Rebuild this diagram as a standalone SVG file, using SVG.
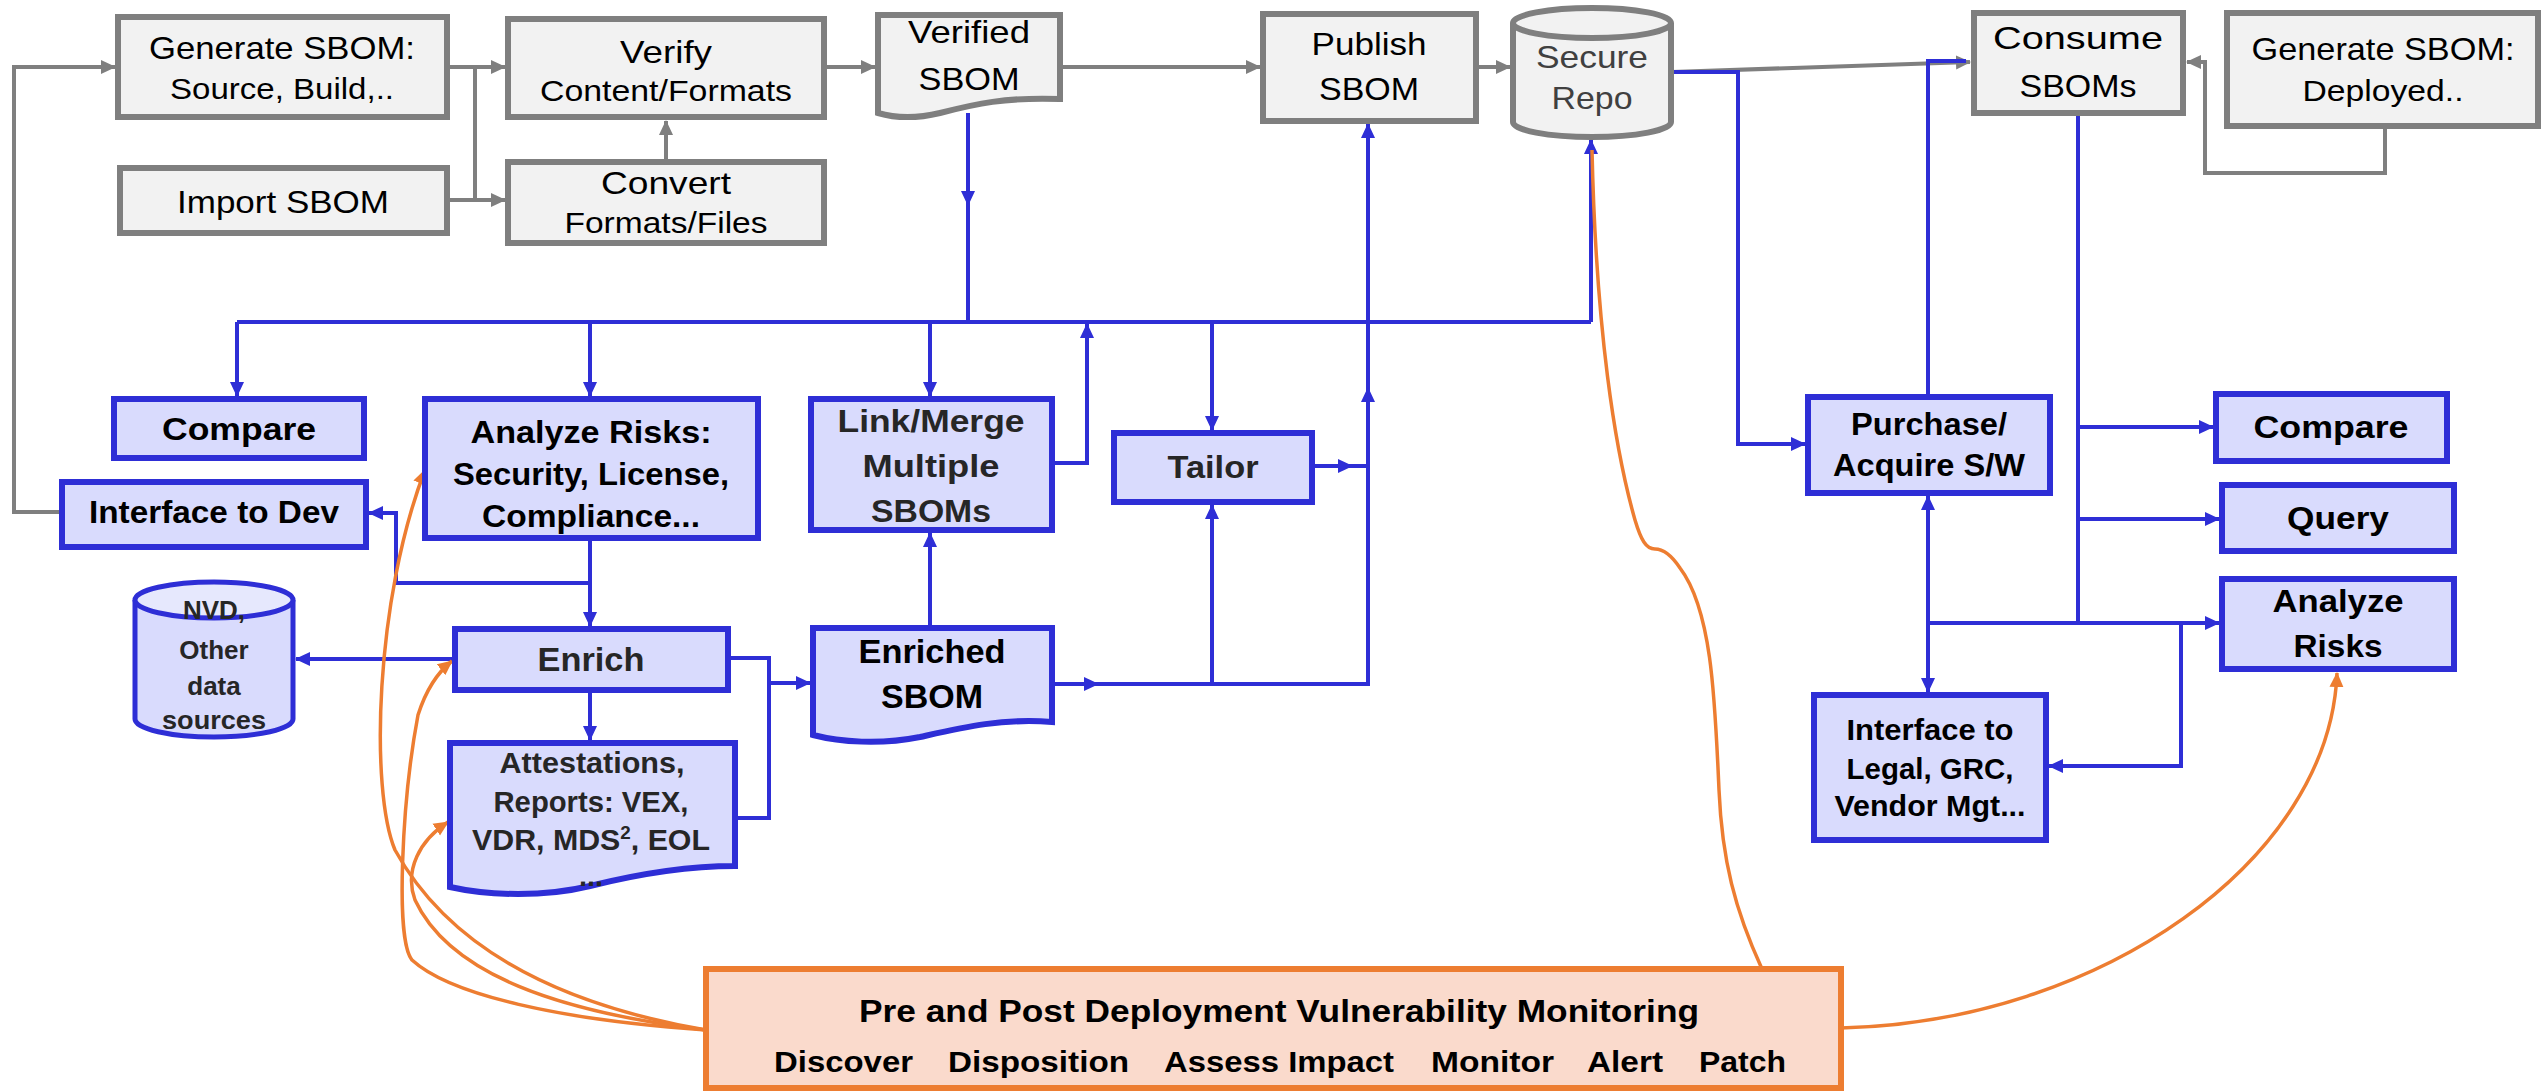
<svg xmlns="http://www.w3.org/2000/svg" width="2542" height="1091" viewBox="0 0 2542 1091">
  <style>
    .gbox{fill:#f2f2f2;stroke:#7f7f7f;stroke-width:6}
    .bbox{fill:#d9dbfd;stroke:#2e2ed6;stroke-width:6}
    .obox{fill:#fadacc;stroke:#ed7d31;stroke-width:6}
    .t{font-family:"Liberation Sans",Arial,sans-serif;text-anchor:middle;fill:#000}
    .r{font-size:32px}
    .r2{font-size:29px}
    .b{font-size:32px;font-weight:bold}
    .d{fill:#262626}
    .gl{fill:none;stroke:#7f7f7f;stroke-width:4}
    .bl{fill:none;stroke:#2e2ed6;stroke-width:4}
    .ol{fill:none;stroke:#ed7d31;stroke-width:3.5}
  </style>
  <defs>
    <marker id="ga" markerUnits="userSpaceOnUse" markerWidth="16" markerHeight="16" refX="14" refY="8" orient="auto-start-reverse">
      <path d="M0,1 L15,8 L0,15 z" fill="#7f7f7f"/>
    </marker>
    <marker id="ba" markerUnits="userSpaceOnUse" markerWidth="16" markerHeight="16" refX="14" refY="8" orient="auto-start-reverse">
      <path d="M0,1 L15,8 L0,15 z" fill="#2e2ed6"/>
    </marker>
    <marker id="oa" markerUnits="userSpaceOnUse" markerWidth="16" markerHeight="16" refX="14" refY="8" orient="auto-start-reverse">
      <path d="M0,1 L15,8 L0,15 z" fill="#ed7d31"/>
    </marker>
  </defs>

  <!-- connectors -->
  <g id="connectors">
    <!-- grey producer flow -->
    <path class="gl" d="M447,67 H505" marker-end="url(#ga)"/>
    <path class="gl" d="M447,200 H505" marker-end="url(#ga)"/>
    <path class="gl" d="M475,67 V200"/>
    <path class="gl" d="M666,162 V121" marker-end="url(#ga)"/>
    <path class="gl" d="M824,67 H875" marker-end="url(#ga)"/>
    <path class="gl" d="M1060,67 H1260" marker-end="url(#ga)"/>
    <path class="gl" d="M1476,67 H1510" marker-end="url(#ga)"/>
    <path class="gl" d="M1672,72 L1970,62" marker-end="url(#ga)"/>
    <path class="gl" d="M2385,127 V173 H2205 V62 H2187" marker-end="url(#ga)"/>
    <path class="gl" d="M62,512 H14 V67 H115" marker-end="url(#ga)"/>

    <!-- blue distribution bus -->
    <path class="bl" d="M968,113 V205" marker-end="url(#ba)"/>
    <path class="bl" d="M968,200 V322"/>
    <path class="bl" d="M237,322 H1591"/>
    <path class="bl" d="M237,322 V396" marker-end="url(#ba)"/>
    <path class="bl" d="M590,322 V396" marker-end="url(#ba)"/>
    <path class="bl" d="M930,322 V396" marker-end="url(#ba)"/>
    <path class="bl" d="M1212,322 V430" marker-end="url(#ba)"/>
    <path class="bl" d="M1591,322 V140" marker-end="url(#ba)"/>
    <path class="bl" d="M1052,463 H1087 V324" marker-end="url(#ba)"/>
    <path class="bl" d="M1312,466 H1352" marker-end="url(#ba)"/>
    <path class="bl" d="M1350,466 H1368"/>
    <path class="bl" d="M1052,684 H1098" marker-end="url(#ba)"/>
    <path class="bl" d="M1096,684 H1368 V124" marker-end="url(#ba)"/>
    <path class="bl" d="M1368,420 V388" marker-end="url(#ba)"/>
    <path class="bl" d="M1212,684 V505" marker-end="url(#ba)"/>
    <path class="bl" d="M930,628 V533" marker-end="url(#ba)"/>
    <path class="bl" d="M590,538 V583 H396 V513 H369" marker-end="url(#ba)"/>
    <path class="bl" d="M590,583 V626" marker-end="url(#ba)"/>
    <path class="bl" d="M455,659 H296" marker-end="url(#ba)"/>
    <path class="bl" d="M590,690 V740" marker-end="url(#ba)"/>
    <path class="bl" d="M728,658 H769 V818 H735"/>
    <path class="bl" d="M769,683 H810" marker-end="url(#ba)"/>

    <!-- blue consumer side -->
    <path class="bl" d="M1672,72 H1738 V444 H1805" marker-end="url(#ba)"/>
    <path class="bl" d="M1928,397 V61 H1966"/>
    <path class="bl" d="M2078,113 V623"/>
    <path class="bl" d="M2078,427 H2213" marker-end="url(#ba)"/>
    <path class="bl" d="M2078,519 H2219" marker-end="url(#ba)"/>
    <path class="bl" d="M1928,623 H2219" marker-end="url(#ba)"/>
    <path class="bl" d="M1928,496 V692" marker-start="url(#ba)" marker-end="url(#ba)"/>
    <path class="bl" d="M2181,623 V766 H2049" marker-end="url(#ba)"/>

    <!-- orange monitoring links -->
    <path class="ol" d="M1762,969 C1735,910 1722,860 1719,790 C1715,700 1712,610 1680,568 C1670,553 1662,549 1655,549 C1646,549 1641,540 1635,520 C1615,450 1596,330 1592,150"/>
    <path class="ol" d="M1841,1028 C2100,1022 2330,860 2337,673" marker-end="url(#oa)"/>
    <path class="ol" d="M706,1030 C560,1005 450,950 395,850 C370,790 375,600 425,470" marker-end="url(#oa)"/>
    <path class="ol" d="M706,1030 C560,1020 450,995 412,960 C395,940 402,800 418,715 C426,690 438,672 452,661" marker-end="url(#oa)"/>
    <path class="ol" d="M706,1030 C560,1012 450,975 415,900 C404,870 420,840 448,822" marker-end="url(#oa)"/>
  </g>

  <!-- producer side (grey) -->
  <g id="gen-source">
    <rect class="gbox" x="118" y="17" width="329" height="100"/>
    <text class="t r" x="282" y="59" textLength="266" lengthAdjust="spacingAndGlyphs">Generate SBOM:</text>
    <text class="t r2" x="282" y="99" textLength="224" lengthAdjust="spacingAndGlyphs">Source, Build,..</text>
  </g>
  <g id="import">
    <rect class="gbox" x="120" y="168" width="327" height="65"/>
    <text class="t r" x="283" y="213" textLength="212" lengthAdjust="spacingAndGlyphs">Import SBOM</text>
  </g>
  <g id="verify">
    <rect class="gbox" x="508" y="19" width="316" height="98"/>
    <text class="t r" x="666" y="63" textLength="92" lengthAdjust="spacingAndGlyphs">Verify</text>
    <text class="t r2" x="666" y="101" textLength="252" lengthAdjust="spacingAndGlyphs">Content/Formats</text>
  </g>
  <g id="convert">
    <rect class="gbox" x="508" y="162" width="316" height="81"/>
    <text class="t r" x="666" y="194" textLength="130" lengthAdjust="spacingAndGlyphs">Convert</text>
    <text class="t r2" x="666" y="233" textLength="203" lengthAdjust="spacingAndGlyphs">Formats/Files</text>
  </g>
  <g id="verified-sbom">
    <path class="gbox" d="M878,15 H1060 V99 C1005,97 975,104 940,113 C915,119 895,118 878,113 Z"/>
    <text class="t r" x="969" y="43" textLength="122" lengthAdjust="spacingAndGlyphs">Verified</text>
    <text class="t r" x="969" y="90" textLength="101" lengthAdjust="spacingAndGlyphs">SBOM</text>
  </g>
  <g id="publish">
    <rect class="gbox" x="1263" y="14" width="213" height="107"/>
    <text class="t r" x="1369" y="55" textLength="115" lengthAdjust="spacingAndGlyphs">Publish</text>
    <text class="t r" x="1369" y="100" textLength="100" lengthAdjust="spacingAndGlyphs">SBOM</text>
  </g>
  <g id="secure-repo">
    <path class="gbox" d="M1513,23 V122 A79,15 0 0 0 1671,122 V23"/>
    <ellipse class="gbox" cx="1592" cy="23" rx="79" ry="15"/>
    <text class="t r" x="1592" y="68" style="fill:#404040" textLength="112" lengthAdjust="spacingAndGlyphs">Secure</text>
    <text class="t r" x="1592" y="109" style="fill:#404040" textLength="81" lengthAdjust="spacingAndGlyphs">Repo</text>
  </g>
  <g id="consume">
    <rect class="gbox" x="1974" y="13" width="209" height="100"/>
    <text class="t r" x="2078" y="49" textLength="170" lengthAdjust="spacingAndGlyphs">Consume</text>
    <text class="t r" x="2078" y="97" textLength="117" lengthAdjust="spacingAndGlyphs">SBOMs</text>
  </g>
  <g id="gen-deployed">
    <rect class="gbox" x="2227" y="13" width="311" height="113"/>
    <text class="t r" x="2383" y="60" textLength="263" lengthAdjust="spacingAndGlyphs">Generate SBOM:</text>
    <text class="t r2" x="2383" y="101" textLength="161" lengthAdjust="spacingAndGlyphs">Deployed..</text>
  </g>

  <!-- producer analysis (blue) -->
  <g id="compare-left">
    <rect class="bbox" x="114" y="399" width="250" height="59"/>
    <text class="t b" x="239" y="440" textLength="154" lengthAdjust="spacingAndGlyphs">Compare</text>
  </g>
  <g id="analyze-left">
    <rect class="bbox" x="425" y="399" width="333" height="139"/>
    <text class="t b" x="591" y="443" textLength="241" lengthAdjust="spacingAndGlyphs">Analyze Risks:</text>
    <text class="t b" x="591" y="485" textLength="276" lengthAdjust="spacingAndGlyphs">Security, License,</text>
    <text class="t b" x="591" y="527" textLength="218" lengthAdjust="spacingAndGlyphs">Compliance...</text>
  </g>
  <g id="interface-dev">
    <rect class="bbox" x="62" y="482" width="304" height="65"/>
    <text class="t b" x="214" y="523" textLength="250" lengthAdjust="spacingAndGlyphs">Interface to Dev</text>
  </g>
  <g id="link-merge">
    <rect class="bbox" x="811" y="399" width="241" height="131"/>
    <text class="t b d" x="931" y="432" textLength="187" lengthAdjust="spacingAndGlyphs">Link/Merge</text>
    <text class="t b d" x="931" y="477" textLength="137" lengthAdjust="spacingAndGlyphs">Multiple</text>
    <text class="t b d" x="931" y="522" textLength="120" lengthAdjust="spacingAndGlyphs">SBOMs</text>
  </g>
  <g id="tailor">
    <rect class="bbox" x="1114" y="433" width="198" height="69"/>
    <text class="t b d" x="1213" y="478" textLength="91" lengthAdjust="spacingAndGlyphs">Tailor</text>
  </g>
  <g id="nvd">
    <path class="bbox" style="stroke-width:5" d="M135,600 V719 A79,18 0 0 0 293,719 V600"/>
    <ellipse class="bbox" style="stroke-width:5;fill:#e6e8fd" cx="214" cy="600" rx="79" ry="18"/>
    <text class="t b d" x="214" y="619" style="font-size:26px">NVD,</text>
    <text class="t b d" x="214" y="659" style="font-size:26px">Other</text>
    <text class="t b d" x="214" y="695" style="font-size:26px">data</text>
    <text class="t b d" x="214" y="729" style="font-size:26px" textLength="104" lengthAdjust="spacingAndGlyphs">sources</text>
  </g>
  <g id="enrich">
    <rect class="bbox" x="455" y="629" width="273" height="61"/>
    <text class="t b d" x="591" y="671" style="font-size:34px" textLength="107" lengthAdjust="spacingAndGlyphs">Enrich</text>
  </g>
  <g id="attestations">
    <path class="bbox" d="M450,743 H735 V866 C680,866 630,876 590,886 C545,897 490,896 450,887 Z"/>
    <text class="t b d" x="592" y="773" style="font-size:29px" textLength="185" lengthAdjust="spacingAndGlyphs">Attestations,</text>
    <text class="t b d" x="591" y="812" style="font-size:29px" textLength="195" lengthAdjust="spacingAndGlyphs">Reports: VEX,</text>
    <text class="t b d" x="591" y="850" style="font-size:29px" textLength="238" lengthAdjust="spacingAndGlyphs">VDR, MDS<tspan dy="-11" style="font-size:18px">2</tspan><tspan dy="11">,  EOL</tspan></text>
    <text class="t b d" x="591" y="886" style="font-size:29px">...</text>
  </g>
  <g id="enriched-sbom">
    <path class="bbox" d="M813,628 H1052 V722 C1000,718 960,728 920,737 C880,745 840,742 813,735 Z"/>
    <text class="t b" x="932" y="663" style="font-size:34px" textLength="147" lengthAdjust="spacingAndGlyphs">Enriched</text>
    <text class="t b" x="932" y="708" style="font-size:34px">SBOM</text>
  </g>

  <!-- consumer side (blue) -->
  <g id="purchase">
    <rect class="bbox" x="1808" y="397" width="242" height="96"/>
    <text class="t b" x="1929" y="435" textLength="156" lengthAdjust="spacingAndGlyphs">Purchase/</text>
    <text class="t b" x="1929" y="476" textLength="192" lengthAdjust="spacingAndGlyphs">Acquire S/W</text>
  </g>
  <g id="compare-right">
    <rect class="bbox" x="2216" y="394" width="231" height="67"/>
    <text class="t b" x="2331" y="438" textLength="155" lengthAdjust="spacingAndGlyphs">Compare</text>
  </g>
  <g id="query">
    <rect class="bbox" x="2222" y="485" width="232" height="66"/>
    <text class="t b" x="2338" y="529" textLength="102" lengthAdjust="spacingAndGlyphs">Query</text>
  </g>
  <g id="analyze-right">
    <rect class="bbox" x="2222" y="579" width="232" height="90"/>
    <text class="t b" x="2338" y="612" textLength="131" lengthAdjust="spacingAndGlyphs">Analyze</text>
    <text class="t b" x="2338" y="657" textLength="89" lengthAdjust="spacingAndGlyphs">Risks</text>
  </g>
  <g id="interface-legal">
    <rect class="bbox" x="1814" y="695" width="232" height="145"/>
    <text class="t b" x="1930" y="740" style="font-size:29px" textLength="167" lengthAdjust="spacingAndGlyphs">Interface to</text>
    <text class="t b" x="1930" y="779" style="font-size:29px" textLength="167" lengthAdjust="spacingAndGlyphs">Legal, GRC,</text>
    <text class="t b" x="1930" y="816" style="font-size:29px" textLength="191" lengthAdjust="spacingAndGlyphs">Vendor Mgt...</text>
  </g>

  <!-- vulnerability monitoring -->
  <g id="monitoring">
    <rect class="obox" x="706" y="969" width="1135" height="119"/>
    <text class="t b" x="1279" y="1022" style="font-size:32px" textLength="840" lengthAdjust="spacingAndGlyphs">Pre and Post Deployment Vulnerability Monitoring</text>
    <g class="t b" style="text-anchor:start;font-size:29px">
      <text x="774" y="1072" textLength="139" lengthAdjust="spacingAndGlyphs">Discover</text>
      <text x="948" y="1072" textLength="181" lengthAdjust="spacingAndGlyphs">Disposition</text>
      <text x="1164" y="1072" textLength="230" lengthAdjust="spacingAndGlyphs">Assess Impact</text>
      <text x="1431" y="1072" textLength="123" lengthAdjust="spacingAndGlyphs">Monitor</text>
      <text x="1587" y="1072" textLength="76" lengthAdjust="spacingAndGlyphs">Alert</text>
      <text x="1699" y="1072" textLength="87" lengthAdjust="spacingAndGlyphs">Patch</text>
    </g>
  </g>
</svg>
